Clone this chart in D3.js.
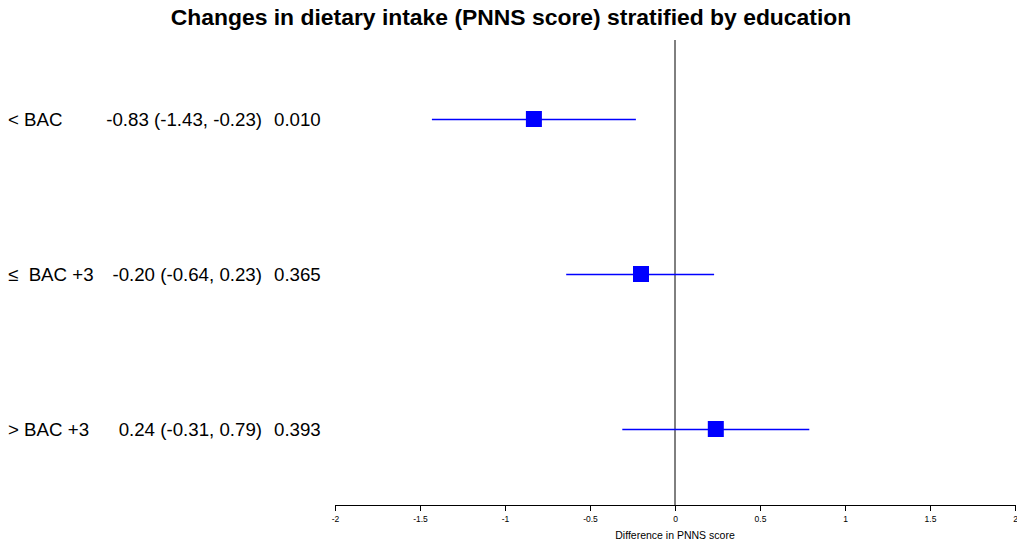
<!DOCTYPE html>
<html>
<head>
<meta charset="utf-8">
<script src="https://cdn.jsdelivr.net/npm/d3@7"></script>
<style>
  html, body { margin: 0; padding: 0; background: #fff; }
  svg { display: block; font-family: "Liberation Sans", Arial, sans-serif; }
  text { white-space: pre; }
</style>
</head>
<body>
<svg id="chart" width="1017" height="543"></svg>
<script>
// Education strata and effect estimates (difference in PNNS score, 95% CI, p-value)
const groups = ["< BAC", "\u2264  BAC +3", "> BAC +3"];
const estimates = [-0.83, -0.20, 0.24];
const lower = [-1.43, -0.64, -0.31];
const upper = [-0.23, 0.23, 0.79];
const pValues = ["0.010", "0.365", "0.393"];
const tickValues = [-2, -1.5, -1, -0.5, 0, 0.5, 1, 1.5, 2];

const svg = d3.select("#chart");

const x = d3.scaleLinear().domain([-2, 2]).range([335, 1015]);
const y = d3.scaleLinear().domain([0, 2]).range([119, 429]);
const axisY = 505;

const locale = d3.formatLocale({decimal: ".", thousands: ",", grouping: [3], currency: ["", ""], minus: "-"});
const fmt = locale.format(".2f");
const tickFmt = locale.format("");

// Title
svg.append("text")
  .attr("x", 511).attr("y", 25)
  .attr("text-anchor", "middle")
  .attr("font-size", 22.9).attr("font-weight", "bold")
  .text("Changes in dietary intake (PNNS score) stratified by education");

// Reference line at zero
svg.append("line")
  .attr("x1", x(0)).attr("x2", x(0))
  .attr("y1", 40).attr("y2", axisY)
  .attr("stroke", "#000").attr("stroke-width", 1);

// Bottom axis
const axis = d3.axisBottom(x).tickValues(tickValues).tickFormat(tickFmt).tickSize(6).tickSizeOuter(6).tickPadding(5);
const gAxis = svg.append("g").attr("transform", `translate(0,${axisY})`).call(axis);
gAxis.select(".domain").attr("stroke", "#000");
gAxis.selectAll(".tick line").attr("stroke", "#000");
gAxis.selectAll(".tick text").attr("font-size", 8.5).attr("fill", "#000")
  .attr("font-family", "\"Liberation Sans\", Arial, sans-serif");

svg.append("text")
  .attr("x", x(0)).attr("y", 539)
  .attr("text-anchor", "middle")
  .attr("font-size", 10.5)
  .text("Difference in PNNS score");

// Row labels
const fs = 18.7;
const rows = svg.append("g").selectAll("g").data(groups).join("g");
rows.append("text")
  .attr("x", 8).attr("y", (d, i) => y(i) + 6.5)
  .attr("font-size", fs)
  .text(d => d);
rows.append("text")
  .attr("x", 262).attr("y", (d, i) => y(i) + 6.5)
  .attr("text-anchor", "end")
  .attr("font-size", fs)
  .text((d, i) => `${fmt(estimates[i])} (${fmt(lower[i])}, ${fmt(upper[i])})`);
rows.append("text")
  .attr("x", 274).attr("y", (d, i) => y(i) + 6.5)
  .attr("font-size", fs)
  .text((d, i) => pValues[i]);

// Confidence intervals
const marks = svg.append("g");
marks.selectAll("line.ci").data(groups).join("line")
  .attr("class", "ci")
  .attr("x1", (d, i) => x(lower[i])).attr("x2", (d, i) => x(upper[i]))
  .attr("y1", (d, i) => y(i) + 0.5).attr("y2", (d, i) => y(i) + 0.5)
  .attr("stroke", "#0000ff").attr("stroke-width", 1.3);

// Point estimates
const sq = 16;
marks.selectAll("rect.est").data(groups).join("rect")
  .attr("class", "est")
  .attr("x", (d, i) => x(estimates[i]) - sq / 2)
  .attr("y", (d, i) => y(i) - sq / 2)
  .attr("width", sq).attr("height", sq)
  .attr("fill", "#0000ff");
</script>
</body>
</html>
